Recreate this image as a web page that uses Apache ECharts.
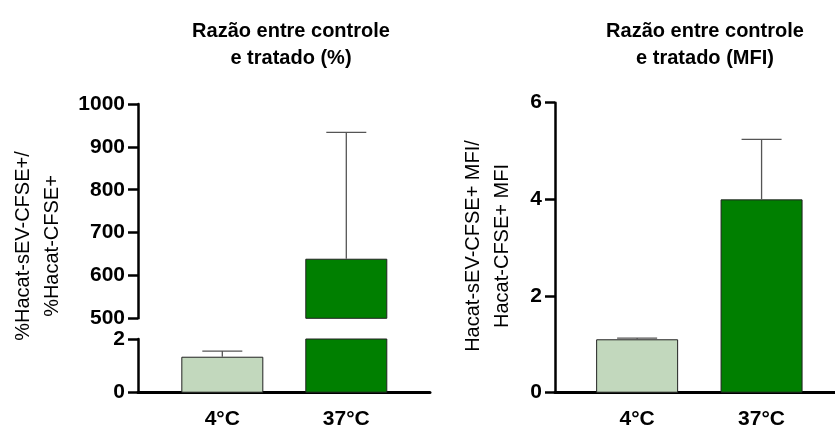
<!DOCTYPE html>
<html>
<head>
<meta charset="utf-8">
<script src="https://cdn.jsdelivr.net/npm/echarts@6/dist/echarts.min.js"></script>
<style>
html,body{margin:0;padding:0;background:#fff;}
#chart{width:835px;height:431px;}
</style>
</head>
<body>
<div id="chart"></div>
<script>
const categories = ['4°C', '37°C'];
const pctMeans = [1.34, 639];
const pctErr = [0.21, 295];
const mfiMeans = [1.105, 4.0];
const mfiErr = [0.025, 1.24];
const pctTopTicks = [500, 1000, 100];
const pctBottomTicks = [0, 2, 2];
const mfiTicks = [0, 6, 2];
const barColors = ['#c2d8bd', '#007f00'];

const FONT = '"Liberation Sans", Arial, sans-serif';

function barData(means, lo) {
  return means.map((v, i) => ({
    value: [i, (lo == null || v > lo) ? v : '-'],
    itemStyle: { color: barColors[i] }
  }));
}
function errData(means, errs) {
  return means.map((v, i) => [i, v, errs[i]]);
}
function errRender(params, api) {
  const x = api.value(0), m = api.value(1), e = api.value(2);
  const b = api.coord([x, m]);
  const t = api.coord([x, m + e]);
  const half = 20;
  const st = { stroke: '#555', lineWidth: 1.3 };
  return {
    type: 'group',
    children: [
      { type: 'line', shape: { x1: b[0], y1: b[1], x2: t[0], y2: t[1] }, style: st },
      { type: 'line', shape: { x1: t[0] - half, y1: t[1], x2: t[0] + half, y2: t[1] }, style: st }
    ]
  };
}

function xAxisCfg(grid, min, max, show) {
  return {
    type: 'value', gridIndex: grid, min: min, max: max, show: show,
    splitLine: { show: false },
    axisLine: { show: show, onZero: false, lineStyle: { color: '#000', width: 3 } },
    axisTick: { show: false },
    axisLabel: {
      show: show, customValues: [0, 1], margin: 16,
      formatter: v => categories[Math.round(v)] || '',
      fontFamily: FONT, fontWeight: 'bold', fontSize: 21, color: '#000'
    }
  };
}
function yAxisCfg(grid, ticks) {
  return {
    type: 'value', gridIndex: grid, min: ticks[0], max: ticks[1], interval: ticks[2],
    splitLine: { show: false },
    axisLine: { show: true, onZero: false, lineStyle: { color: '#000', width: 2.5 } },
    axisTick: { show: true, length: 10, lineStyle: { color: '#000', width: 2.5 } },
    axisLabel: { margin: 13, fontFamily: FONT, fontWeight: 'bold', fontSize: 21, color: '#000',
      formatter: v => String(v) }
  };
}

const chart = echarts.init(document.getElementById('chart'), null, { renderer: 'canvas' });
const barStyle = { borderColor: '#222', borderWidth: 1 };

chart.setOption({
  animation: false,
  backgroundColor: '#fff',
  title: [
    {
      text: 'Razão entre controle\ne tratado (%)', left: 286, top: 13, textAlign: 'center',
      textStyle: { fontFamily: FONT, fontWeight: 'bold', fontSize: 20, lineHeight: 27, color: '#000' }
    },
    {
      text: 'Razão entre controle\ne tratado (MFI)', left: 700, top: 13, textAlign: 'center',
      textStyle: { fontFamily: FONT, fontWeight: 'bold', fontSize: 20, lineHeight: 27, color: '#000' }
    }
  ],
  grid: [
    { left: 138, top: 104, width: 292, height: 214.3, outerBoundsMode: 'none' },
    { left: 138, top: 339, width: 292, height: 53.7, outerBoundsMode: 'none' },
    { left: 555, top: 102.7, width: 280, height: 290, outerBoundsMode: 'none' }
  ],
  xAxis: [
    xAxisCfg(0, -0.68, 1.675, false),
    xAxisCfg(1, -0.68, 1.675, true),
    xAxisCfg(2, -0.66, 1.59, true)
  ],
  yAxis: [
    yAxisCfg(0, pctTopTicks),
    yAxisCfg(1, pctBottomTicks),
    yAxisCfg(2, mfiTicks)
  ],
  graphic: [
    {
      type: 'text', x: 38, y: 246, rotation: Math.PI / 2,
      style: {
        text: '%Hacat-sEV-CFSE+/\n%Hacat-CFSE+', align: 'center', verticalAlign: 'middle',
        font: '20px ' + FONT, lineHeight: 28.5, fill: '#000'
      }
    },
    {
      type: 'text', x: 488, y: 246, rotation: Math.PI / 2,
      style: {
        text: 'Hacat-sEV-CFSE+ MFI/\nHacat-CFSE+ MFI', align: 'center', verticalAlign: 'middle',
        font: '20px ' + FONT, lineHeight: 29, fill: '#000'
      }
    }
  ],
  series: [
    { type: 'bar', xAxisIndex: 0, yAxisIndex: 0, barWidth: 82, clip: true, itemStyle: barStyle,
      data: barData(pctMeans, pctTopTicks[0]) },
    { type: 'bar', xAxisIndex: 1, yAxisIndex: 1, barWidth: 82, clip: true, itemStyle: barStyle,
      data: barData(pctMeans, null) },
    { type: 'bar', xAxisIndex: 2, yAxisIndex: 2, barWidth: 82, clip: true, itemStyle: barStyle,
      data: barData(mfiMeans, null) },
    { type: 'custom', xAxisIndex: 0, yAxisIndex: 0, clip: true, renderItem: errRender,
      data: errData(pctMeans, pctErr), z: 3 },
    { type: 'custom', xAxisIndex: 1, yAxisIndex: 1, clip: true, renderItem: errRender,
      data: errData(pctMeans, pctErr), z: 3 },
    { type: 'custom', xAxisIndex: 2, yAxisIndex: 2, clip: true, renderItem: errRender,
      data: errData(mfiMeans, mfiErr), z: 3 }
  ]
});
</script>
</body>
</html>
